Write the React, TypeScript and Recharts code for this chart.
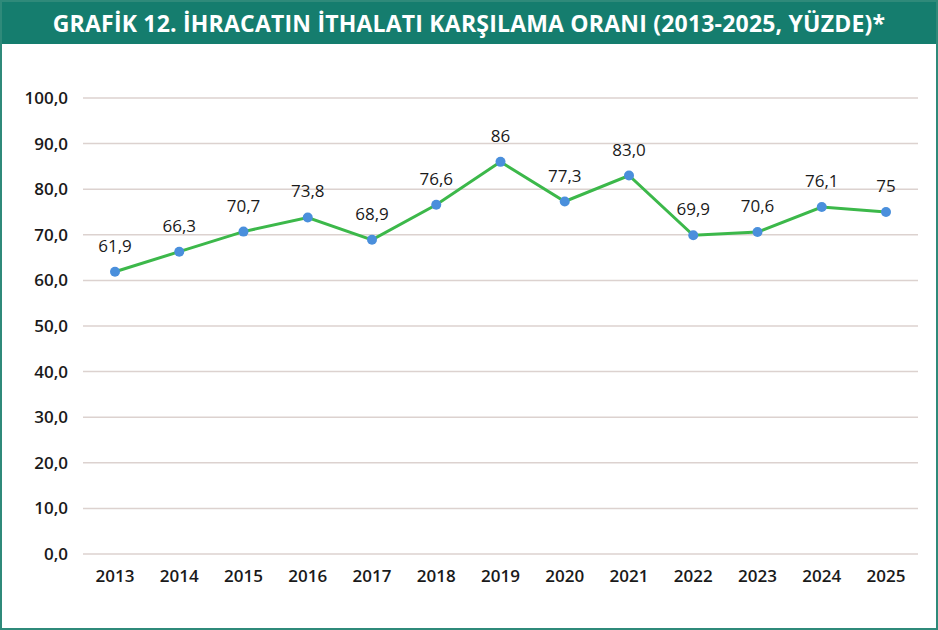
import { LineChart, Line, XAxis, YAxis, CartesianGrid, LabelList } from "recharts"

// İhracatın ithalatı karşılama oranı, yüzde
const years = ["2013", "2014", "2015", "2016", "2017", "2018", "2019", "2020", "2021", "2022", "2023", "2024", "2025"]
const ratios = [61.9, 66.3, 70.7, 73.8, 68.9, 76.6, 86, 77.3, 83.0, 69.9, 70.6, 76.1, 75]
const ratioLabels = ["61,9", "66,3", "70,7", "73,8", "68,9", "76,6", "86", "77,3", "83,0", "69,9", "70,6", "76,1", "75"]
const yTicks = [0, 10, 20, 30, 40, 50, 60, 70, 80, 90, 100]

const data = years.map((year, i) => ({ year, ratio: ratios[i], label: ratioLabels[i] }))

const font = "'Open Sans', 'DejaVu Sans', sans-serif"

export default function App() {
  return (
    <div
      style={{
        position: "absolute",
        top: 0,
        left: 0,
        width: 938,
        height: 630,
        boxSizing: "border-box",
        border: "2px solid #2f8a7a",
        background: "#fff",
        fontFamily: font,
      }}
    >
      <div
        style={{
          height: 42,
          background: "#157d6e",
          color: "#fff",
          fontWeight: 700,
          fontSize: 23,
          lineHeight: "42px",
          textAlign: "center",
          letterSpacing: 0.2,
        }}
      >
        GRAFİK 12. İHRACATIN İTHALATI KARŞILAMA ORANI (2013-2025, YÜZDE)*
      </div>
      <div style={{ position: "absolute", top: -2, left: -2 }}>
        <LineChart width={938} height={630} data={data} margin={{ top: 98, right: 20, bottom: 46, left: 23 }}>
          <CartesianGrid vertical={false} stroke="#dcd2cf" strokeWidth={1.5} />
          <XAxis
            dataKey="year"
            axisLine={false}
            tickLine={false}
            tickSize={0}
            tickMargin={16}
            height={30}
            interval={0}
            padding={{ left: 32, right: 32 }}
            tick={{ fill: "#1a1a1a", fontSize: 17, fontWeight: 600, fontFamily: font }}
          />
          <YAxis
            domain={[0, 100]}
            ticks={yTicks}
            axisLine={false}
            tickLine={false}
            tickSize={0}
            tickMargin={15}
            width={60}
            tickFormatter={(v: number) => v.toFixed(1).replace(".", ",")}
            tick={{ fill: "#1a1a1a", fontSize: 17, fontWeight: 600, fontFamily: font }}
          />
          <Line
            dataKey="ratio"
            stroke="#3cb84a"
            strokeWidth={3}
            dot={{ r: 5, fill: "#4a8fdc", stroke: "#4a8fdc", strokeWidth: 0 }}
            isAnimationActive={false}
          >
            <LabelList dataKey="label" position="top" offset={20} fill="#1a1a1a" fontSize={17} fontWeight={500} fontFamily={font} />
          </Line>
        </LineChart>
      </div>
    </div>
  )
}
